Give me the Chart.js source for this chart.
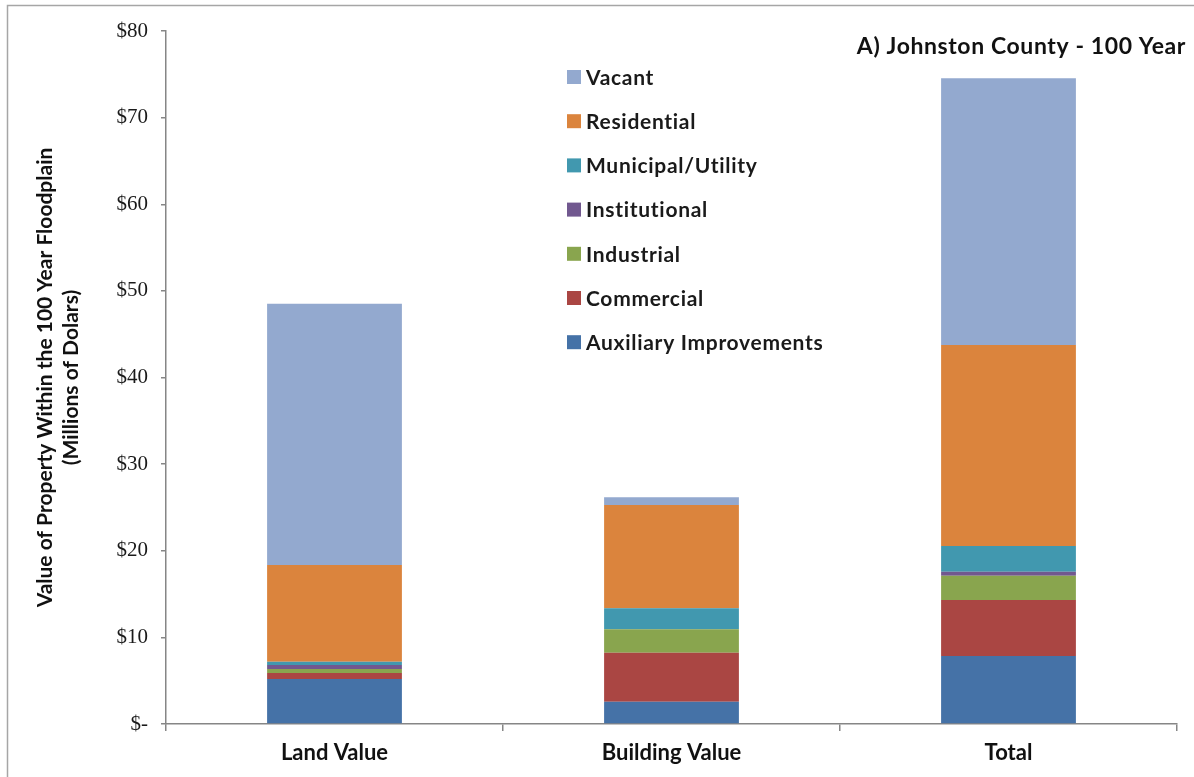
<!DOCTYPE html>
<html>
<head>
<meta charset="utf-8">
<title>Johnston County - 100 Year Floodplain Property Value</title>
<script src="https://cdn.jsdelivr.net/npm/chart.js@4/dist/chart.umd.min.js"></script>
<style>
  html, body { margin: 0; padding: 0; background: #ffffff; }
  #wrap { width: 1194px; height: 777px; }
</style>
</head>
<body>
<div id="wrap"><canvas id="chart" width="1194" height="777"></canvas></div>
<script>
// Property value within the 100-year floodplain, millions of dollars
const categories = ['Land Value', 'Building Value', 'Total'];

const auxiliaryImprovements = [5.20, 2.57, 7.85];
const commercial            = [0.70, 5.66, 6.46];
const industrial            = [0.45, 2.70, 2.80];
const institutional         = [0.45, 0.00, 0.46];
const municipalUtility      = [0.40, 2.43, 2.97];
const residential           = [11.15, 11.92, 23.20];
const vacant                = [30.15, 0.89, 30.80];

const yTicks = [0, 10, 20, 30, 40, 50, 60, 70, 80];
const chartTitle = 'A) Johnston County - 100 Year';
const yAxisTitle = ['Value of Property Within the 100 Year Floodplain', '(Millions of Dolars)'];

const seriesDefs = [
  { label: 'Auxiliary Improvements', data: auxiliaryImprovements, color: '#4572A7' },
  { label: 'Commercial',             data: commercial,            color: '#AA4643' },
  { label: 'Industrial',             data: industrial,            color: '#89A54E' },
  { label: 'Institutional',          data: institutional,         color: '#71588F' },
  { label: 'Municipal/Utility',      data: municipalUtility,      color: '#4198AF' },
  { label: 'Residential',            data: residential,           color: '#DB843D' },
  { label: 'Vacant',                 data: vacant,                color: '#93A9CF' }
];

const axisColor = '#868686';
const sansFamily = 'Lato, "Open Sans", sans-serif';

// Outer frame, corner title and the stacked legend listed top-down (Vacant first)
const decorations = {
  id: 'decorations',
  afterDraw(chart) {
    const ctx = chart.ctx;
    ctx.save();

    ctx.strokeStyle = '#a6a6a6';
    ctx.lineWidth = 1.5;
    ctx.beginPath();
    ctx.moveTo(7.5, 800);
    ctx.lineTo(7.5, 5.5);
    ctx.lineTo(1200, 5.5);
    ctx.stroke();

    ctx.fillStyle = '#111111';
    ctx.font = 'bold 23px ' + sansFamily;
    ctx.letterSpacing = '0.6px';
    ctx.textAlign = 'right';
    ctx.textBaseline = 'middle';
    ctx.fillText(chartTitle, 1186, 47);

    const sets = chart.data.datasets;
    ctx.font = 'bold 21px ' + sansFamily;
    ctx.letterSpacing = '0.7px';
    ctx.textAlign = 'left';
    for (let i = sets.length - 1, row = 0; i >= 0; i--, row++) {
      const y = 77 + row * 44.2;
      ctx.fillStyle = sets[i].backgroundColor;
      ctx.fillRect(567, y - 7, 14, 14);
      ctx.fillStyle = '#1a1a1a';
      ctx.fillText(sets[i].label, 586, y + 1);
    }
    ctx.restore();
  }
};

new Chart(document.getElementById('chart'), {
  type: 'bar',
  data: {
    labels: categories,
    datasets: seriesDefs.map(s => ({
      label: s.label,
      data: s.data,
      backgroundColor: s.color,
      borderWidth: 0,
      barPercentage: 0.4,
      categoryPercentage: 1.0
    }))
  },
  options: {
    responsive: false,
    animation: false,
    layout: { padding: { top: 31, right: 17, left: 0, bottom: 0 } },
    plugins: {
      legend: { display: false },
      title: { display: false },
      tooltip: { enabled: false }
    },
    scales: {
      x: {
        stacked: true,
        afterFit(scale) { scale.height = 53; },
        border: { color: axisColor, width: 1.5 },
        grid: {
          offset: true,
          drawOnChartArea: false,
          drawTicks: true,
          tickLength: 7,
          color: axisColor,
          lineWidth: 1.5
        },
        ticks: {
          color: '#111111',
          padding: 9,
          font: { family: sansFamily, size: 22, weight: 'bold' }
        }
      },
      y: {
        stacked: true,
        min: 0,
        max: 80,
        afterFit(scale) { scale.width = 166; },
        afterBuildTicks(scale) { scale.ticks = yTicks.map(v => ({ value: v })); },
        border: { color: axisColor, width: 1.5 },
        grid: {
          drawOnChartArea: false,
          drawTicks: true,
          tickLength: 5,
          color: axisColor,
          lineWidth: 1.5
        },
        ticks: {
          color: '#1a1a1a',
          padding: 13,
          font: { family: '"Liberation Serif", "DejaVu Serif", serif', size: 21 },
          callback: v => (v === 0 ? '$-' : '$' + v)
        },
        title: {
          display: true,
          text: yAxisTitle,
          color: '#111111',
          padding: { top: 33, bottom: 0 },
          font: { family: sansFamily, size: 21, weight: 'bold', lineHeight: 1.2 }
        }
      }
    }
  },
  plugins: [decorations]
});
</script>
</body>
</html>
